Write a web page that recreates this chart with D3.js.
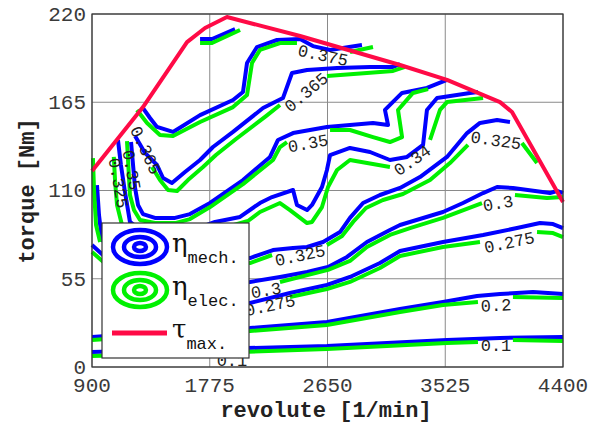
<!DOCTYPE html>
<html lang="en">
<head>
<meta charset="UTF-8">
<title>Efficiency map</title>
<style>
  body { margin: 0; background: #fff; }
  svg text { font-family: 'Liberation Mono', 'DejaVu Sans Mono', monospace; }
</style>
<script src="https://d3js.org/d3.v7.min.js"></script>
</head>
<body>
<svg width="599" height="426"></svg>
<script>
// ticks
const xTicks = [900, 1775, 2650, 3525, 4400];
const yTicks = [0, 55, 110, 165, 220];

// max torque curve [rpm, Nm]
const tauMax = [[900,122.1],[1279,162.0],[1606,202.5],[1740,211.3],[1903,218.1],[2446,206.3],
  [3189,188.2],[3538,178.9],[3932,165.1],[4021,158.9],[4400,102.8]];

// mechanical efficiency contours (blue)
const mech038 = [[1703,204.4],[1792,204.4],[1963,210.6]];
const mech0375 = [[1279,161.4],[1331,155.2],[1383,149.6],[1502,146.5],[1703,157.0],[1948,166.4],[2022,171.4],
  [2052,189.5],[2126,199.4],[2275,203.8],[2446,204.4],[2542,200.0],[2669,197.6],[2906,200.7]];
const mech0365 = [[1220,144.0],[1294,133.4],[1383,125.9],[1428,117.8],[1494,114.7],[1591,121.5],[1703,129.0],
  [1799,137.1],[1948,146.5],[2171,161.4],[2319,167.6],[2386,183.2],[2498,185.1],[2721,186.3],[2966,187.0],
  [3137,187.0],[3189,188.8]];
const mech035 = [[1190,140.2],[1205,125.9],[1220,111.6],[1242,101.0],[1279,95.3],[1368,92.9],[1517,92.9],
  [1628,95.3],[1777,102.2],[2022,116.5],[2223,130.9],[2282,141.5],[2394,145.8],[2646,149.6],[2817,150.8],
  [2988,152.1],[3100,150.8],[3077,160.2],[3204,170.8],[3389,173.9],[3538,178.9]];
const mech034 = [[1554,82.3],[1814,90.4],[2000,93.5],[2148,102.2],[2238,105.9],[2394,110.3],[2423,101.0],
  [2498,97.8],[2535,101.0],[2609,112.2],[2646,122.8],[2669,132.1],[2817,136.5],[2966,134.0],[3114,129.0],
  [3241,130.9],[3360,138.4],[3389,160.2],[3464,167.6],[3709,170.8],[3768,171.4]];
const mech0325 = [[1093,141.5],[1115,125.9],[1145,109.1],[1182,90.4],[1405,76.0],[1777,69.2],[2074,67.9],
  [2245,72.9],[2394,74.2],[2498,74.8],[2617,77.9],[2743,84.1],[2817,92.9],[2914,102.2],[3040,107.2],
  [3189,111.6],[3337,118.4],[3538,130.9],[3687,145.8],[3783,152.1],[3910,153.9],[4006,152.7]];
const mech03 = [[937,113.4],[952,94.7],[974,79.1],[1331,60.5],[1777,51.1],[2074,53.0],[2297,56.1],[2498,59.2],
  [2654,62.3],[2795,68.6],[2943,77.9],[3114,85.4],[3189,88.5],[3508,96.6],[3657,102.2],[3806,108.4],
  [3910,112.2],[4028,111.6],[4303,108.4],[4355,109.7],[4400,108.4]];
const mech0275 = [[900,76.0],[1331,43.0],[2074,39.9],[2371,46.1],[2646,51.1],[2817,56.1],[3040,64.8],
  [3189,72.3],[3508,77.9],[3806,82.3],[4058,86.6],[4229,89.7],[4326,89.1],[4400,86.6]];
const mech02 = [[900,18.7],[1331,21.2],[2074,24.3],[2646,28.0],[3189,36.1],[3508,40.5],[3761,44.2],
  [3932,45.5],[4177,46.7],[4400,45.5]];
const mech01 = [[900,9.3],[1777,11.2],[2646,13.1],[3538,16.8],[3932,18.1],[4400,18.7]];

// electrical efficiency contours (green), null = gap for a label
const elec038 = [[1703,201.9],[1792,201.9],[2000,210.0]];
const elec0375 = [[1234,160.2],[1309,152.1],[1405,144.6],[1502,144.0],[1703,152.7],[1948,162.0],[2052,169.5],
  [2089,189.5],[2148,197.6],[2297,201.9],[2423,201.9],null,[2817,196.3],[2988,199.4]];
const elec0365 = [[1346,124.6],[1405,116.5],[1465,110.3],[1532,109.7],[1613,116.5],[1725,124.6],[1821,132.1],
  [1970,142.1],[2193,156.4],[2297,163.3],null,[2646,181.4],[2943,183.2],[3137,184.5],[3226,187.0]];
const elec035 = [[1160,140.8],[1175,118.0],[1182,107.2],[1212,97.8],[1257,91.6],[1368,89.7],[1517,89.7],
  [1628,92.2],[1777,99.7],[2022,114.0],[2245,129.0],[2297,137.1],[2349,140.2],null,[2669,147.7],[2817,147.7],
  [2988,143.3],[3114,140.2],[3204,143.3],[3174,160.2],[3285,170.8],[3397,173.2]];
const elec034 = [[1554,79.1],[2059,91.0],[2148,96.6],[2297,102.2],[2371,97.8],[2498,89.7],[2535,90.4],
  [2609,99.7],[2654,112.2],[2721,122.8],[2817,129.0],[3114,124.6],null,[3412,141.5],[3486,160.2],
  [3538,165.1],[3806,167.6]];
const elec0325 = [[1062,131.0],[1072,115.0],[1086,101.0],[1123,88.5],[1405,72.9],[1777,66.1],[2074,64.8],
  [2238,69.8],null,[2646,76.0],[2758,81.6],[2840,90.4],[2936,99.1],[3062,104.1],[3211,107.8],[3412,116.5],
  [3560,127.1],[3694,138.4],null,[4095,139.6],[4207,127.1]];
const elec03 = [[907,130.2],[915,110.3],[930,88.5],[960,77.9],null,[2297,53.0],[2654,60.5],[2817,66.1],
  [2943,74.8],[3114,82.3],[3263,86.6],[3508,92.9],[3798,102.2],null,[4043,107.2],[4281,105.3],[4400,105.9]];
const elec0275 = [[900,71.7],[1331,39.9],[2037,36.1],null,[2371,43.6],[2646,48.6],[2817,53.0],[3040,61.7],
  [3189,69.2],[3508,74.8],[3783,77.9],null,[4207,84.1],[4326,83.5],[4400,81.0]];
const elec02 = [[900,16.8],[1331,19.3],[2074,22.4],[2646,26.2],[3189,34.3],[3508,38.6],[3768,40.5],null,
  [4028,43.6],[4400,43.0]];
const elec01 = [[900,6.9],[1777,8.7],[2646,11.2],[3538,15.0],[3768,15.6],null,[4028,16.8],[4400,16.2]];

const mechLines = [mech038, mech0375, mech0365, mech035, mech034, mech0325, mech03, mech0275, mech02, mech01];
const elecLines = [elec038, elec0375, elec0365, elec035, elec034, elec0325, elec03, elec0275, elec02, elec01];

// contour labels: text, rpm, torque
const labels = [["0.375",2617,194.4],["0.365",2490,171.4],["0.365",1301,135.2],["0.35",2505,139.6],
  ["0.35",1197,122.8],["0.34",3278,129.0],["0.325",2446,69.8],["0.325",3902,141.5],["0.325",1100,114.7],
  ["0.3",2193,48.0],["0.3",3917,102.2],["0.275",2223,38.6],["0.275",4000,77.9],["0.2",3902,38.6],
  ["0.1",3902,13.7],["0.1",1940,4.4]];
const labelAngles = [12, -40, 65, -10, 80, -35, -12, 8, 80, -10, -10, -12, -12, -3, 0, 0];

const legendNames = ["mech.", "elec.", "max."];

const svg = d3.select("svg");
const x = d3.scaleLinear().domain([900, 4400]).range([92, 563]);
const y = d3.scaleLinear().domain([0, 220]).range([367, 14]);

// grid
svg.append("g").selectAll("line").data(xTicks).enter().append("line")
  .attr("x1", d => x(d)).attr("x2", d => x(d)).attr("y1", y(0)).attr("y2", y(220))
  .attr("stroke", "#8a8a8a").attr("stroke-width", 1);
svg.append("g").selectAll("line").data(yTicks).enter().append("line")
  .attr("x1", x(900)).attr("x2", x(4400)).attr("y1", d => y(d)).attr("y2", d => y(d))
  .attr("stroke", "#8a8a8a").attr("stroke-width", 1);

const line = d3.line().defined(d => d !== null).x(d => x(d[0])).y(d => y(d[1]));

const plot = svg.append("g");
plot.selectAll("path.mech").data(mechLines).enter().append("path")
  .attr("class", "mech").attr("d", line).attr("fill", "none")
  .attr("stroke", "#0000ff").attr("stroke-width", 4).attr("stroke-linejoin", "round");
plot.selectAll("path.elec").data(elecLines).enter().append("path")
  .attr("class", "elec").attr("d", line).attr("fill", "none")
  .attr("stroke", "#00f000").attr("stroke-width", 4).attr("stroke-linejoin", "round");

plot.append("path").datum(tauMax).attr("d", line).attr("fill", "none")
  .attr("stroke", "#ff0a46").attr("stroke-width", 4).attr("stroke-linejoin", "round");

plot.selectAll("text.clabel").data(labels).enter().append("text")
  .attr("class", "clabel")
  .attr("transform", (d, i) => `translate(${x(d[1])},${y(d[2])}) rotate(${labelAngles[i]})`)
  .attr("text-anchor", "middle").attr("dy", "0.35em")
  .style("font-size", "17px").attr("fill", "#222")
  .text(d => d[0]);

// axes frame
svg.append("rect").attr("x", x(900)).attr("y", y(220)).attr("width", x(4400) - x(900))
  .attr("height", y(0) - y(220)).attr("fill", "none").attr("stroke", "#333").attr("stroke-width", 1.2);

svg.append("g").selectAll("text").data(xTicks).enter().append("text")
  .attr("x", d => x(d)).attr("y", 392).attr("text-anchor", "middle")
  .style("font-size", "21px").attr("fill", "#3a3a3a").text(d => d);
svg.append("g").selectAll("text").data(yTicks).enter().append("text")
  .attr("x", 86).attr("y", d => y(d)).attr("dy", "0.33em").attr("text-anchor", "end")
  .style("font-size", "21px").attr("fill", "#3a3a3a").text(d => d);

svg.append("text").attr("x", 326).attr("y", 417).attr("text-anchor", "middle")
  .style("font-size", "22px").style("font-weight", "700").attr("fill", "#222")
  .text("revolute [1/min]");
svg.append("text").attr("transform", "translate(34,191) rotate(-90)").attr("text-anchor", "middle")
  .style("font-size", "22px").style("font-weight", "700").attr("fill", "#222")
  .text("torque [Nm]");

// legend
const lg = svg.append("g");
lg.append("rect").attr("x", 102).attr("y", 223).attr("width", 147).attr("height", 135)
  .attr("fill", "#fff").attr("stroke", "#333").attr("stroke-width", 1.2);
const rings = [[27, 17], [16, 10], [6, 4]];
[["#0000ff", 247], ["#00f000", 290]].forEach(([c, cy]) => {
  lg.selectAll(null).data(rings).enter().append("ellipse")
    .attr("cx", 140).attr("cy", cy).attr("rx", d => d[0]).attr("ry", d => d[1])
    .attr("fill", "none").attr("stroke", c).attr("stroke-width", 4.5);
});
lg.append("line").attr("x1", 112).attr("x2", 167).attr("y1", 333).attr("y2", 333)
  .attr("stroke", "#ff0a46").attr("stroke-width", 5);
const sym = ["η", "η", "τ"];
const symY = [252, 295, 338];
legendNames.forEach((n, i) => {
  const t = lg.append("text").attr("x", 172).attr("y", symY[i]).attr("fill", "#111");
  t.append("tspan").style("font-size", "26px").style("font-family", "'DejaVu Serif', serif").text(sym[i]);
  t.append("tspan").attr("dy", 11).style("font-size", "17px").text(n);
});
</script>
</body>
</html>
